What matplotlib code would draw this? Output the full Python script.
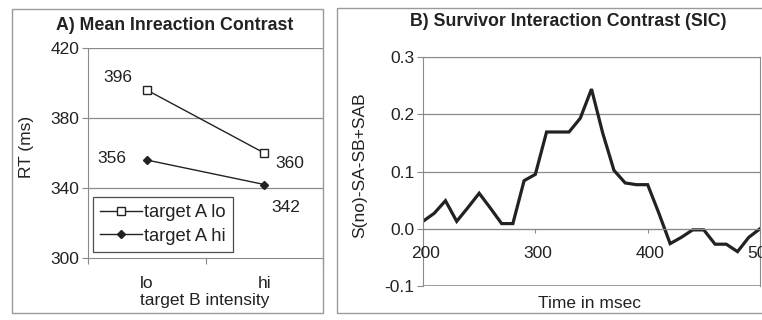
import matplotlib
matplotlib.use("Agg")
import matplotlib.pyplot as plt
from matplotlib.patches import Rectangle
from matplotlib.transforms import ScaledTranslation

plt.rcParams['font.family'] = ['Liberation Sans', 'DejaVu Sans']

# panel A: mean RT per condition
categories = ["lo", "hi"]
rt_a_lo = [396, 360]
rt_a_hi = [356, 342]
rt_ticks = [300, 340, 380, 420]

# panel B: survivor interaction contrast over time
time_ms = [200, 210, 220, 230, 240, 250, 260, 270, 280, 290, 300, 310, 320, 330,
           340, 350, 360, 370, 380, 390, 400, 410, 420, 430, 440, 450, 460, 470,
           480, 490, 500]
sic = [0.013, 0.027, 0.049, 0.013, 0.037, 0.062, 0.036, 0.009, 0.009, 0.084,
       0.095, 0.169, 0.169, 0.169, 0.193, 0.244, 0.167, 0.102, 0.080, 0.077,
       0.077, 0.027, -0.026, -0.015, -0.002, -0.002, -0.027, -0.027, -0.040,
       -0.015, 0.0]
sic_ticks = [-0.1, 0.0, 0.1, 0.2, 0.3]
time_ticks = [200, 300, 400, 500]

W, H = 762, 320
fig = plt.figure(figsize=(W / 100, H / 100), dpi=100)
fig.patch.set_facecolor("white")

ink = "#222222"
grid = "#8a8a8a"
FS = 12.5


def px_axes(x0, y0, x1, y1):
    # pixel box (top-left origin) -> figure axes
    return fig.add_axes([x0 / W, 1 - y1 / H, (x1 - x0) / W, (y1 - y0) / H])


def px_text(x, y, s, **kw):
    kw.setdefault("ha", "center")
    kw.setdefault("va", "center")
    kw.setdefault("color", ink)
    kw.setdefault("fontsize", FS)
    return fig.text(x / W, 1 - y / H, s, **kw)


# outer chart frames
fig.add_artist(Rectangle((12 / W, 1 - 313 / H), (323 - 12) / W, (313 - 9) / H,
                         transform=fig.transFigure, fill=False, edgecolor="#9a9a9a", lw=1))
fig.add_artist(Rectangle((337 / W, 1 - 313 / H), (770 - 337) / W, (313 - 8) / H,
                         transform=fig.transFigure, fill=False, edgecolor="#9a9a9a", lw=1))

# ---- A) Mean Inreaction Contrast
axA = px_axes(88, 48, 323, 258)
xs = list(range(len(categories)))
axA.plot(xs, rt_a_lo, color=ink, lw=1, marker="s", ms=5.5, mfc="white", mec=ink,
         mew=1, label="target A lo")
axA.plot(xs, rt_a_hi, color=ink, lw=1, marker="D", ms=4.5, mfc=ink, mec=ink,
         label="target A hi")
axA.set_xlim(-0.5, 1.5)
axA.set_ylim(300, 420)
axA.set_yticks(rt_ticks)
axA.set_xticks([-0.5, 0.5, 1.5])
axA.set_xticklabels([])
below = axA.get_xaxis_transform() + ScaledTranslation(0, -25 / 100, fig.dpi_scale_trans)
for i, c in enumerate(categories):
    axA.text(i, 0, c, ha="center", va="center", fontsize=FS, color=ink,
             clip_on=False, transform=below)
for v in rt_ticks[1:]:
    axA.axhline(v, color=grid, lw=0.9, zorder=0)
for s in ["top", "right"]:
    axA.spines[s].set_visible(False)
axA.spines["left"].set_color(grid)
axA.spines["bottom"].set_color(grid)
axA.tick_params(axis="y", length=4, color=grid, labelsize=FS, labelcolor=ink, pad=2)
axA.tick_params(axis="x", length=4, color=grid)

px_text(175, 25, "A) Mean Inreaction Contrast", fontweight="bold", fontsize=12.8)
px_text(205, 301, "target B intensity")
px_text(26, 147, "RT (ms)", rotation=90)

# value labels
axA.text(-0.25, rt_a_lo[0] + 7, str(rt_a_lo[0]), ha="center", va="center", fontsize=FS, color=ink)
axA.text(-0.30, rt_a_hi[0] + 1, str(rt_a_hi[0]), ha="center", va="center", fontsize=FS, color=ink)
axA.text(1.22, rt_a_lo[1] - 6, str(rt_a_lo[1]), ha="center", va="center", fontsize=FS, color=ink)
axA.text(1.18, rt_a_hi[1] - 13, str(rt_a_hi[1]), ha="center", va="center", fontsize=FS, color=ink)

leg = axA.legend(loc="upper left", bbox_to_anchor=(0.02, 0.29), fontsize=13.2,
                 frameon=True, fancybox=False, handlelength=2.3, handletextpad=0.1,
                 borderpad=0.4, borderaxespad=0, labelspacing=0.35)
leg.get_frame().set_edgecolor(ink)
leg.get_frame().set_linewidth(0.9)
for t in leg.get_texts():
    t.set_color(ink)

# ---- B) Survivor Interaction Contrast (SIC)
axB = px_axes(423, 57, 760, 286)
axB.plot(time_ms, sic, color=ink, lw=2.3, solid_joinstyle="miter")
axB.set_xlim(200, 500)
axB.set_ylim(-0.1, 0.3)
axB.set_yticks(sic_ticks)
axB.set_yticklabels([f"{v:.1f}" for v in sic_ticks])
axB.set_xticks(time_ticks)
axB.set_xticklabels([])
for v in sic_ticks[1:]:
    axB.axhline(v, color=grid, lw=0.9, zorder=0)
for s in axB.spines.values():
    s.set_color(grid)
axB.spines["bottom"].set_position(("data", 0.0))
axB.axhline(-0.1, color=grid, lw=1.2, zorder=0)
axB.tick_params(axis="y", length=4, color=grid, labelsize=FS, labelcolor=ink, pad=2)
axB.tick_params(axis="x", length=3, color=grid)
for t in time_ticks:
    axB.text(t + 2, -0.043, str(t), ha="center", va="center", fontsize=FS,
             color=ink, clip_on=False)

px_text(568, 22, "B) Survivor Interaction Contrast (SIC)", fontweight="bold", fontsize=12.8)
px_text(590, 303, "Time in msec")
px_text(360, 165, "S(no)-SA-SB+SAB", rotation=90)

fig.savefig("out.png", dpi=100, facecolor="white")
